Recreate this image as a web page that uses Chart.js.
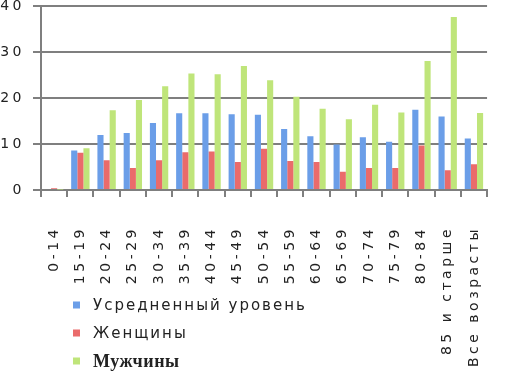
<!DOCTYPE html>
<html>
<head>
<meta charset="utf-8">
<script src="https://cdn.jsdelivr.net/npm/chart.js@4/dist/chart.umd.min.js"></script>
<style>
    html, body { margin: 0; padding: 0; background: #fff; overflow: hidden; }
    #wrap { position: absolute; left: 0; top: -10px; width: 520px; height: 382px; }
</style>
</head>
<body>
<div id="wrap"><canvas id="myChart"></canvas></div>
<script>
const ageGroups = ['0-14', '15-19', '20-24', '25-29', '30-34', '35-39', '40-44', '45-49', '50-54',
    '55-59', '60-64', '65-69', '70-74', '75-79', '80-84', '85 и старше', 'Все возрасты'];
const averageLevel = [0.2, 8.6, 12.0, 12.4, 14.6, 16.7, 16.7, 16.5, 16.4, 13.3, 11.7, 9.9, 11.5, 10.5, 17.5, 16.0, 11.2];
const women = [0.4, 8.1, 6.5, 4.8, 6.5, 8.2, 8.4, 6.1, 9.0, 6.3, 6.1, 4.0, 4.8, 4.8, 9.7, 4.3, 5.6];
const men = [0.1, 9.1, 17.4, 19.6, 22.6, 25.4, 25.2, 27.0, 23.9, 20.3, 17.7, 15.4, 18.6, 16.9, 28.1, 37.7, 16.8];
const yTicks = [0, 10, 20, 30, 40];
const seriesNames = ['Усредненный уровень', 'Женщины', 'Мужчины'];

// wide letter spacing for all axis text, like the original
const spacingPlugin = {
    id: 'spacing',
    beforeDraw(chart) { chart.ctx.letterSpacing = '3.5px'; },
    afterDraw(chart) { chart.ctx.letterSpacing = '0px'; }
};

// legend drawn by hand: stacked under the axis, each entry has its own font
const sideLegend = {
    id: 'sideLegend',
    afterDraw(chart, args, opts) {
        const ctx = chart.ctx;
        ctx.save();
        chart.data.datasets.forEach((ds, i) => {
            const y = opts.top + i * opts.step;
            ctx.fillStyle = ds.backgroundColor;
            ctx.fillRect(opts.left, y - 3.5, 7, 7);
            ctx.font = opts.fonts[i];
            ctx.letterSpacing = opts.spacing[i];
            ctx.fillStyle = '#222';
            ctx.textBaseline = 'middle';
            ctx.textAlign = 'left';
            ctx.fillText(ds.label, opts.left + 20, y + 1);
        });
        ctx.restore();
    }
};

const ctx = document.getElementById('myChart');
new Chart(ctx, {
    type: 'bar',
    data: {
        labels: ageGroups,
        datasets: [
            { label: seriesNames[0], data: averageLevel, backgroundColor: '#6b9ee8' },
            { label: seriesNames[1], data: women, backgroundColor: '#ea6b6b' },
            { label: seriesNames[2], data: men, backgroundColor: '#bfe57a' }
        ]
    },
    options: {
        responsive: true,
        maintainAspectRatio: false,
        animation: false,
        categoryPercentage: 0.7,
        barPercentage: 1.0,
        layout: { padding: { top: 4, right: 9, left: 0, bottom: 0 } },
        plugins: {
            legend: { display: false },
            tooltip: { enabled: false },
            sideLegend: {
                left: 73,
                top: 315,
                step: 28,
                fonts: ['15px "DejaVu Sans"', '15px "DejaVu Sans"', 'bold 18px "Liberation Serif"'],
                spacing: ['2px', '2px', '0.5px']
            }
        },
        scales: {
            x: {
                grid: {
                    display: true,
                    drawOnChartArea: false,
                    drawTicks: true,
                    offset: true,
                    color: '#7f7f7f',
                    lineWidth: 2,
                    tickLength: 7
                },
                border: { color: '#7f7f7f', width: 2 },
                ticks: {
                    minRotation: 90,
                    maxRotation: 90,
                    autoSkip: false,
                    padding: 29,
                    color: '#222',
                    font: { family: 'DejaVu Sans', size: 14 }
                },
                afterFit(scale) { scale.height = 182; }
            },
            y: {
                min: 0,
                max: 40,
                grid: { color: '#7f7f7f', lineWidth: 2, tickLength: 8 },
                border: { color: '#7f7f7f', width: 2 },
                afterBuildTicks(scale) { scale.ticks = yTicks.map(v => ({ value: v })); },
                ticks: {
                    padding: 8,
                    color: '#222',
                    font: { family: 'DejaVu Sans', size: 14 }
                },
                afterFit(scale) { scale.width = 41; }
            }
        }
    },
    plugins: [spacingPlugin, sideLegend]
});
</script>
</body>
</html>
